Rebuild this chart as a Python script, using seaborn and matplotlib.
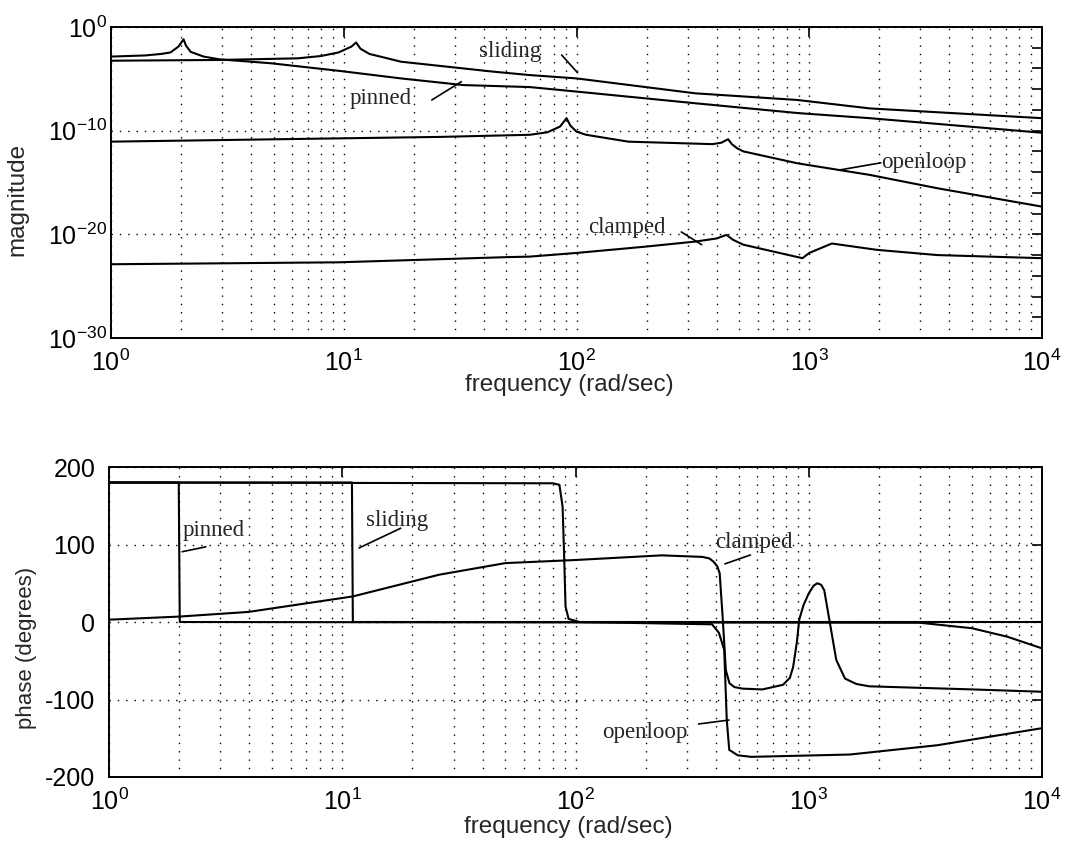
import numpy as np
import pandas as pd
import matplotlib
matplotlib.use("Agg")
import matplotlib.pyplot as plt
import matplotlib.ticker as mticker
import seaborn as sns

# ---------------- data ----------------
# magnitude plot
pinned_mag_f = [1, 1.4, 1.64, 1.8, 1.95, 2.05, 2.1, 2.2, 2.5, 2.92, 4.85, 9.6, 17.6, 32.6, 63, 100, 324,
                890, 1820, 10000]
pinned_mag = [1.4e-3, 1.8e-3, 2.5e-3, 3.5e-3, 1.3e-2, 6.5e-2, 1.6e-2, 4.0e-3, 1.4e-3, 7.6e-4, 3.2e-4,
              5.8e-5, 1.1e-5, 2.5e-6, 1.6e-6, 5.9e-7, 4.4e-8, 5.0e-9, 1.6e-9, 6.3e-11]

sliding_mag_f = [1, 2.9, 6.35, 8.0, 9.5, 10.8, 11.3, 11.8, 12.9, 15, 17.6, 43.6, 63, 100, 324, 890,
                 1820, 10000]
sliding_mag = [5.6e-4, 6.6e-4, 9.5e-4, 1.6e-3, 3.5e-3, 1.3e-2, 3.2e-2, 8.0e-3, 2.5e-3, 1.1e-3, 4.5e-4,
               5.0e-5, 2.3e-5, 1.1e-5, 4.0e-7, 9.1e-8, 1.4e-8, 1.6e-9]

openloop_mag_f = [1, 26, 63, 75, 85, 90.6, 94, 100, 110, 167, 385, 420, 448, 465, 490, 521, 890, 1820,
                  3550, 10000]
openloop_mag = [8.7e-12, 2.5e-11, 4.0e-11, 7.0e-11, 2.5e-10, 1.6e-9, 3.2e-10, 8.0e-11, 4.0e-11, 8.7e-12,
                5.0e-12, 7.0e-12, 1.5e-11, 5.0e-12, 2.0e-12, 1.0e-12, 7.1e-14, 5.4e-15, 2.8e-16, 4.7e-18]

clamped_mag_f = [1, 9.5, 26, 50, 63, 100, 195, 324, 400, 441, 470, 521, 935, 1000, 1250, 1950, 3550,
                 10000]
clamped_mag = [1.3e-23, 2.0e-23, 4.0e-23, 6.3e-23, 7.1e-23, 1.6e-22, 6.3e-22, 2.0e-21, 4.0e-21, 8.9e-21,
               3.0e-21, 1.0e-21, 5.0e-23, 1.6e-22, 1.3e-21, 3.2e-22, 1.0e-22, 5.0e-23]

# phase plot
pinned_ph_f = [1, 1.99, 2.01, 3000, 5000, 7100, 10000]
pinned_ph = [180, 180, 0, -1, -8, -19, -34]

sliding_ph_f = [1, 11.0, 11.1, 10000]
sliding_ph = [180, 180, 0, 0]

openloop_ph_f = [1, 80, 85.3, 88, 89.3, 90.6, 93.4, 104, 385, 412, 434, 445, 456, 496, 567, 1500, 3560,
                 10000]
openloop_ph = [180, 179, 177, 149, 89, 20, 4, 0, -3, -14, -36, -126, -165, -172, -174, -171, -159, -137]

clamped_ph_f = [1, 2.0, 3.96, 11.1, 26, 50, 100, 234, 350, 375, 390, 405, 415, 428, 441, 457, 480, 521,
                633, 776, 830, 857, 890, 910, 950, 1000, 1050, 1089, 1130, 1165, 1225, 1312, 1430, 1600,
                1820, 5050, 10000]
clamped_ph = [3, 7, 13, 33, 61, 76, 80, 86, 84, 82, 78, 72, 63, 3, -62, -79, -84, -86,
              -87, -81, -72, -58, -25, 3, 22, 37, 47, 50, 48, 41, 3, -49, -73, -80,
              -83, -87, -90]

x_ticks = [1, 10, 100, 1000, 10000]
mag_ticks = [1e-30, 1e-20, 1e-10, 1e0]
phase_ticks = [-200, -100, 0, 100, 200]

xlabel = "frequency (rad/sec)"
mag_label = "magnitude"
phase_label = "phase (degrees)"

# ---------------- style ----------------
sns.set_style("white")
plt.rcParams.update({
    "font.family": ["Liberation Sans", "DejaVu Sans"],
    "mathtext.fontset": "custom",
    "mathtext.rm": "Liberation Sans",
    "mathtext.it": "Liberation Sans:italic",
    "mathtext.bf": "Liberation Sans:bold",
    "mathtext.default": "regular",
    "axes.unicode_minus": False,
    "axes.edgecolor": "black",
    "axes.linewidth": 1.4,
    "xtick.direction": "in",
    "ytick.direction": "in",
    "xtick.top": True,
    "ytick.right": True,
    "xtick.color": "black",
    "ytick.color": "black",
})

fig = plt.figure(figsize=(10.86, 8.41), dpi=100)
ax1 = fig.add_axes([0.1022, 0.5981, 0.8573, 0.3698])
ax2 = fig.add_axes([0.1004, 0.0761, 0.8591, 0.3686])

LW = 1.5
serif = ["Liberation Serif", "DejaVu Serif"]


def curve(ax, f, v):
    df = pd.DataFrame({"f": f, "v": v})
    sns.lineplot(data=df, x="f", y="v", ax=ax, color="black", lw=LW,
                 estimator=None, sort=False, legend=False)


for ax in (ax1, ax2):
    ax.set_xscale("log")
    ax.set_xlim(1, 1e4)

ax1.set_yscale("log")
ax1.set_ylim(1e-30, 1)
ax2.set_ylim(-200, 200)

curve(ax1, pinned_mag_f, pinned_mag)
curve(ax1, sliding_mag_f, sliding_mag)
curve(ax1, openloop_mag_f, openloop_mag)
curve(ax1, clamped_mag_f, clamped_mag)

curve(ax2, pinned_ph_f, pinned_ph)
curve(ax2, sliding_ph_f, sliding_ph)
curve(ax2, openloop_ph_f, openloop_ph)
curve(ax2, clamped_ph_f, clamped_ph)

dot = (0, (1, 5))
for ax in (ax1, ax2):
    ax.xaxis.set_major_locator(mticker.FixedLocator(x_ticks))
    ax.xaxis.set_minor_locator(mticker.LogLocator(base=10, subs=np.arange(2, 10), numticks=20))
    ax.xaxis.set_major_formatter(mticker.LogFormatterSciNotation())
    ax.xaxis.set_minor_formatter(mticker.NullFormatter())
    ax.grid(True, which="major", axis="both", color="black", lw=1.0, linestyle=dot)
    ax.grid(True, which="minor", axis="x", color="black", lw=1.0, linestyle=dot)
    ax.tick_params(axis="x", which="major", length=7, width=1.2, labelsize=18, pad=8)
    ax.tick_params(axis="x", which="minor", length=0)
    ax.set_xlabel(xlabel, fontsize=17.5)
    for s in ax.spines.values():
        s.set_visible(True)
        s.set_color("black")
        s.set_linewidth(1.4)

ax1.yaxis.set_major_locator(mticker.FixedLocator(mag_ticks))
ax1.yaxis.set_minor_locator(mticker.FixedLocator(
    [10.0 ** e for e in range(-30, 1, 2) if e % 10 != 0]))
ax1.yaxis.set_major_formatter(mticker.LogFormatterSciNotation())
ax1.yaxis.set_minor_formatter(mticker.NullFormatter())
ax1.tick_params(axis="y", which="major", length=7, width=1.2, labelsize=18, pad=3)
ax1.tick_params(axis="y", which="minor", length=7, width=1.2)
ax1.set_ylabel(mag_label, fontsize=17.5)
for t in ax1.get_yticklabels():
    t.set_va("center_baseline")

ax2.yaxis.set_major_locator(mticker.FixedLocator(phase_ticks))
ax2.tick_params(axis="y", which="major", length=7, width=1.2, labelsize=18, pad=10)
ax2.set_ylabel(phase_label, fontsize=16)

ax1.xaxis.set_label_coords(0.4925, -0.152)
ax1.xaxis.label.set_va("center")
ax2.xaxis.set_label_coords(0.492, -0.160)
ax2.xaxis.label.set_va("center")
ax1.yaxis.set_label_coords(-0.100, 0.444)
ax1.yaxis.label.set_va("center")
ax2.yaxis.set_label_coords(-0.088, 0.416)
ax2.yaxis.label.set_va("center")


def label(ax, text, pos, ha, p0, p1):
    ax.text(pos[0], pos[1], text, fontsize=16.5, family=serif, ha=ha, va="center")
    ax.annotate("", xy=p1, xytext=p0,
                arrowprops=dict(arrowstyle="-", lw=1.2, color="black", shrinkA=0, shrinkB=0))


# magnitude annotations
label(ax1, "sliding", (52, 3.9e-3), "center", (86.3, 2e-3), (101, 3.9e-5))
label(ax1, "pinned", (14.4, 1.4e-7), "center", (23.9, 9.1e-8), (32, 5.3e-6))
label(ax1, "openloop", (2030, 7.9e-14), "left", (1346, 1.6e-14), (2030, 7.9e-14))
label(ax1, "clamped", (164, 5e-20), "center", (282, 1.7e-20), (345, 1e-21))

# phase annotations
label(ax2, "pinned", (2.06, 118.7), "left", (2.06, 90.7), (2.6, 97))
label(ax2, "sliding", (12.6, 131.6), "left", (11.8, 95.5), (17.8, 121))
label(ax2, "clamped", (395, 103), "left", (437, 75), (562, 86.5))
label(ax2, "openloop", (130, -143), "left", (337, -131.6), (455, -126.5))

fig.savefig("out.png", dpi=100, facecolor="white")
